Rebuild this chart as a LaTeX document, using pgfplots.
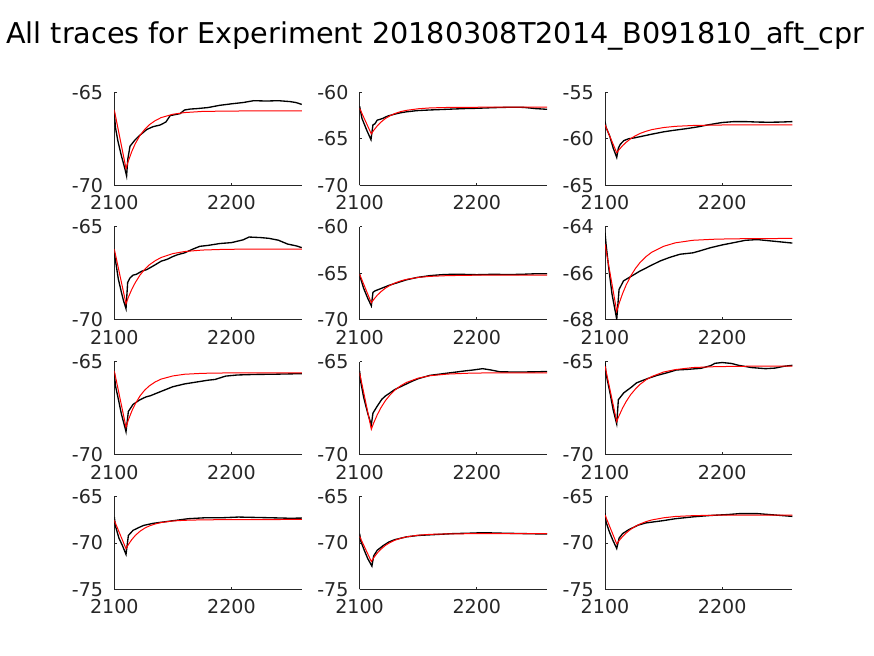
\documentclass[border=0pt]{standalone}
\usepackage{fontspec}
\setmainfont{DejaVu Sans}
\usepackage{pgfplots}
\pgfplotsset{compat=1.18}
\definecolor{axgray}{gray}{0.15}
\pgfplotsset{
  panel/.style={
    anchor=north west,
    scale only axis,
    width=140.6pt, height=69.75pt,
    xmin=2100, xmax=2260,
    xtick={2100,2200}, xticklabels={2100,2200},
    axis x line*=bottom, axis y line*=left,
    axis line style={color=axgray, line width=0.5pt, -},
    tick style={color=axgray, line width=0.5pt},
    major tick length=2pt,
    tick align=inside,
    ticklabel style={font=\fontsize{14.3}{16}\selectfont, text=axgray, inner sep=0pt},
    xticklabel shift=7.5pt,
    yticklabel shift=8.2pt,
  },
  fit/.style={red, line width=0.75pt},
  trace/.style={black, line width=1.0pt},
}
\begin{document}
\begin{tikzpicture}
\path[use as bounding box] (0,0) rectangle (655.5pt,-492pt);
\node[anchor=base, font=\fontsize{21.5}{24}\selectfont] at ({435.5*0.75pt},{-43.3*0.75pt}) {All traces for Experiment 20180308T2014\_B091810\_aft\_cpr};

% Row 1, col 1
\begin{axis}[panel, at={({114.3*0.75pt},{-92.3*0.75pt})}, ymin=-70, ymax=-65, ytick={-70,-65}, yticklabels={-70,-65}]
\addplot[trace] coordinates {(2100,-66.1)(2101,-66.9)(2103,-67.6)(2106,-68.4)(2109,-69.1)(2110.5,-69.5)(2111.5,-68.6)(2113.4,-67.9)(2117.7,-67.56)(2122,-67.3)(2127.7,-67.0)(2133,-66.85)(2139,-66.76)(2144,-66.6)(2147.7,-66.25)(2152,-66.2)(2156,-66.15)(2160,-65.95)(2165,-65.9)(2170,-65.88)(2180,-65.82)(2190,-65.7)(2200,-65.62)(2210,-65.55)(2219,-65.45)(2230,-65.47)(2240,-65.45)(2250,-65.5)(2255,-65.55)(2260,-65.65)};
\addplot[fit] coordinates {(2100,-65.95)(2110,-69.10)(2112,-68.69)(2115,-68.17)(2118,-67.75)(2122,-67.31)(2126,-66.99)(2130,-66.74)(2135,-66.52)(2140,-66.36)(2150,-66.18)(2160,-66.09)(2175,-66.03)(2195,-66.01)(2220,-66.00)(2260,-66.00)};
\end{axis}

% Row 1, col 2
\begin{axis}[panel, at={({359.6*0.75pt},{-92.3*0.75pt})}, ymin=-70, ymax=-60, ytick={-70,-65,-60}, yticklabels={-70,-65,-60}]
\addplot[trace] coordinates {(2100,-61.5)(2102,-62.8)(2106,-64.05)(2109.7,-65.1)(2111.4,-63.5)(2113,-63.4)(2115,-63.0)(2120,-62.8)(2124,-62.55)(2130,-62.35)(2135,-62.2)(2140,-62.1)(2149,-61.97)(2160,-61.9)(2170,-61.85)(2180,-61.8)(2190,-61.75)(2200,-61.72)(2215,-61.65)(2230,-61.6)(2240,-61.62)(2250,-61.75)(2260,-61.83)};
\addplot[fit] coordinates {(2100,-61.72)(2110,-64.48)(2112,-64.10)(2115,-63.62)(2118,-63.23)(2122,-62.82)(2126,-62.52)(2130,-62.29)(2135,-62.08)(2140,-61.94)(2150,-61.77)(2160,-61.68)(2175,-61.63)(2195,-61.61)(2220,-61.60)(2260,-61.60)};
\end{axis}

% Row 1, col 3
\begin{axis}[panel, at={({605.0*0.75pt},{-92.3*0.75pt})}, ymin=-65, ymax=-55, ytick={-65,-60,-55}, yticklabels={-65,-60,-55}]
\addplot[trace] coordinates {(2100,-58.15)(2101,-58.8)(2104,-59.7)(2107,-61.0)(2110,-62.0)(2111.4,-61.0)(2113,-60.6)(2116,-60.2)(2120,-60.0)(2125,-59.9)(2130,-59.77)(2140,-59.5)(2150,-59.25)(2158,-59.1)(2170,-58.9)(2180,-58.7)(2188,-58.5)(2195,-58.35)(2200,-58.25)(2210,-58.15)(2220,-58.15)(2230,-58.2)(2240,-58.22)(2250,-58.2)(2260,-58.15)};
\addplot[fit] coordinates {(2100,-58.5)(2110,-61.5)(2112,-61.17)(2115,-60.74)(2118,-60.38)(2122,-59.98)(2126,-59.67)(2130,-59.42)(2135,-59.19)(2140,-59.01)(2150,-58.79)(2160,-58.66)(2175,-58.57)(2195,-58.52)(2220,-58.50)(2260,-58.50)};
\end{axis}

% Row 2, col 1
\begin{axis}[panel, at={({114.3*0.75pt},{-226.8*0.75pt})}, ymin=-70, ymax=-65, ytick={-70,-65}, yticklabels={-70,-65}]
\addplot[trace] coordinates {(2100,-66.4)(2101,-66.8)(2103.4,-67.8)(2106,-68.5)(2108,-69.0)(2110,-69.4)(2111.4,-68.0)(2113.4,-67.75)(2116,-67.6)(2119,-67.55)(2123,-67.4)(2127.7,-67.3)(2132,-67.15)(2136,-67.0)(2140,-66.85)(2145,-66.75)(2150,-66.6)(2154,-66.5)(2160,-66.4)(2167,-66.2)(2173,-66.05)(2180,-66.0)(2190,-65.9)(2200,-65.85)(2210,-65.7)(2215,-65.55)(2225,-65.58)(2232,-65.62)(2240,-65.72)(2248,-65.93)(2255,-66.02)(2260,-66.12)};
\addplot[fit] coordinates {(2100,-66.2)(2110,-69.14)(2112,-68.79)(2115,-68.35)(2118,-67.99)(2122,-67.59)(2126,-67.28)(2130,-67.04)(2135,-66.82)(2140,-66.65)(2150,-66.44)(2160,-66.33)(2175,-66.25)(2195,-66.21)(2220,-66.20)(2260,-66.20)};
\end{axis}

% Row 2, col 2
\begin{axis}[panel, at={({359.6*0.75pt},{-226.8*0.75pt})}, ymin=-70, ymax=-60, ytick={-70,-65,-60}, yticklabels={-70,-65,-60}]
\addplot[trace] coordinates {(2100,-65.1)(2101,-65.6)(2103.4,-66.6)(2107,-67.7)(2110,-68.5)(2111.4,-67.05)(2113,-66.9)(2116,-66.75)(2120,-66.55)(2125,-66.3)(2130,-66.1)(2135,-65.9)(2140,-65.7)(2149,-65.45)(2160,-65.25)(2170,-65.15)(2180,-65.1)(2190,-65.12)(2200,-65.15)(2210,-65.12)(2220,-65.12)(2230,-65.13)(2240,-65.1)(2250,-65.05)(2260,-65.05)};
\addplot[fit] coordinates {(2100,-65.1)(2110,-68.17)(2112,-67.82)(2115,-67.37)(2118,-67.00)(2122,-66.60)(2126,-66.29)(2130,-66.05)(2135,-65.82)(2140,-65.65)(2150,-65.44)(2160,-65.33)(2175,-65.25)(2195,-65.21)(2220,-65.20)(2260,-65.20)};
\end{axis}

% Row 2, col 3
\begin{axis}[panel, at={({605.0*0.75pt},{-226.8*0.75pt})}, ymin=-68, ymax=-64, ytick={-68,-66,-64}, yticklabels={-68,-66,-64}]
\addplot[trace] coordinates {(2100,-64.25)(2101,-64.8)(2103,-65.7)(2106,-66.9)(2109,-67.7)(2110,-67.98)(2112,-66.7)(2115.7,-66.33)(2120,-66.2)(2125,-66.05)(2130,-65.9)(2138.6,-65.68)(2147,-65.47)(2155,-65.32)(2164,-65.18)(2175,-65.12)(2180,-65.05)(2190,-64.9)(2200,-64.78)(2210,-64.68)(2220,-64.58)(2230,-64.55)(2240,-64.6)(2250,-64.65)(2260,-64.7)};
\addplot[fit] coordinates {(2100,-64.75)(2110,-67.63)(2112,-67.30)(2115,-66.87)(2118,-66.51)(2122,-66.11)(2126,-65.79)(2130,-65.53)(2135,-65.28)(2140,-65.09)(2150,-64.84)(2160,-64.69)(2175,-64.58)(2195,-64.53)(2220,-64.51)(2260,-64.50)};
\end{axis}

% Row 3, col 1
\begin{axis}[panel, at={({114.3*0.75pt},{-361.6*0.75pt})}, ymin=-70, ymax=-65, ytick={-70,-65}, yticklabels={-70,-65}]
\addplot[trace] coordinates {(2100,-65.6)(2101,-66.3)(2103.4,-67.0)(2106,-67.8)(2108.5,-68.4)(2110,-68.77)(2112,-67.68)(2116,-67.3)(2122,-67.05)(2127,-66.9)(2131,-66.83)(2140,-66.6)(2150,-66.35)(2160,-66.2)(2170,-66.1)(2180,-66.0)(2186,-65.96)(2195,-65.78)(2205,-65.72)(2220,-65.69)(2235,-65.68)(2250,-65.66)(2260,-65.65)};
\addplot[fit] coordinates {(2100,-65.5)(2110,-68.53)(2112,-68.14)(2115,-67.65)(2118,-67.26)(2122,-66.84)(2126,-66.53)(2130,-66.30)(2135,-66.09)(2140,-65.94)(2150,-65.77)(2160,-65.68)(2175,-65.63)(2195,-65.61)(2220,-65.60)(2260,-65.60)};
\end{axis}

% Row 3, col 2
\begin{axis}[panel, at={({359.6*0.75pt},{-361.6*0.75pt})}, ymin=-70, ymax=-65, ytick={-70,-65}, yticklabels={-70,-65}]
\addplot[trace] coordinates {(2100,-65.5)(2101,-66.1)(2103.4,-66.9)(2107,-67.8)(2110,-68.4)(2111.4,-67.77)(2115,-67.4)(2118.9,-67.03)(2122,-66.85)(2126,-66.68)(2130,-66.5)(2135,-66.35)(2140,-66.2)(2145,-66.05)(2150,-65.92)(2160,-65.74)(2170,-65.66)(2180,-65.58)(2190,-65.5)(2197,-65.45)(2205,-65.38)(2212,-65.45)(2220,-65.55)(2235,-65.56)(2250,-65.55)(2260,-65.53)};
\addplot[fit] coordinates {(2100,-65.6)(2110,-68.64)(2112,-68.30)(2115,-67.87)(2118,-67.50)(2122,-67.10)(2126,-66.79)(2130,-66.54)(2135,-66.30)(2140,-66.12)(2150,-65.89)(2160,-65.76)(2175,-65.67)(2195,-65.62)(2220,-65.60)(2260,-65.60)};
\end{axis}

% Row 3, col 3
\begin{axis}[panel, at={({605.0*0.75pt},{-361.6*0.75pt})}, ymin=-70, ymax=-65, ytick={-70,-65}, yticklabels={-70,-65}]
\addplot[trace] coordinates {(2100,-65.05)(2101,-65.7)(2104,-66.6)(2107,-67.6)(2110,-68.35)(2111.4,-67.05)(2116,-66.68)(2122,-66.4)(2127,-66.14)(2136,-65.92)(2144,-65.75)(2153,-65.6)(2161,-65.45)(2170,-65.42)(2182,-65.36)(2190,-65.22)(2194,-65.09)(2200,-65.05)(2208,-65.1)(2214,-65.2)(2225,-65.32)(2237,-65.38)(2245,-65.35)(2253,-65.25)(2260,-65.2)};
\addplot[fit] coordinates {(2100,-65.24)(2110,-68.22)(2112,-67.91)(2115,-67.50)(2118,-67.15)(2122,-66.77)(2126,-66.47)(2130,-66.22)(2135,-65.98)(2140,-65.80)(2150,-65.56)(2160,-65.43)(2175,-65.32)(2195,-65.27)(2220,-65.25)(2260,-65.24)};
\end{axis}

% Row 4, col 1
\begin{axis}[panel, at={({114.3*0.75pt},{-496.4*0.75pt})}, ymin=-75, ymax=-65, ytick={-75,-70,-65}, yticklabels={-75,-70,-65}]
\addplot[trace] coordinates {(2100,-67.2)(2101,-68.2)(2104,-69.5)(2107,-70.3)(2110,-71.24)(2112,-69.2)(2116,-68.65)(2120,-68.4)(2125,-68.12)(2133,-67.9)(2140,-67.78)(2151,-67.6)(2163,-67.4)(2177,-67.3)(2191,-67.3)(2206,-67.22)(2220,-67.26)(2235,-67.3)(2250,-67.35)(2260,-67.33)};
\addplot[fit] coordinates {(2100,-67.58)(2110,-70.63)(2112,-70.18)(2115,-69.63)(2118,-69.19)(2122,-68.74)(2126,-68.41)(2130,-68.17)(2135,-67.96)(2140,-67.81)(2150,-67.64)(2160,-67.57)(2175,-67.52)(2195,-67.50)(2220,-67.50)(2260,-67.47)};
\end{axis}

% Row 4, col 2
\begin{axis}[panel, at={({359.6*0.75pt},{-496.4*0.75pt})}, ymin=-75, ymax=-65, ytick={-75,-70,-65}, yticklabels={-75,-70,-65}]
\addplot[trace] coordinates {(2100,-69.0)(2101,-69.8)(2104,-70.8)(2107,-71.7)(2110.5,-72.5)(2112,-71.4)(2115,-70.8)(2120,-70.3)(2125,-69.9)(2130,-69.65)(2140,-69.35)(2150,-69.2)(2165,-69.1)(2180,-69.0)(2195,-68.95)(2205,-68.9)(2220,-68.95)(2240,-69.0)(2260,-69.05)};
\addplot[fit] coordinates {(2100,-69.3)(2110,-72.0)(2112,-71.60)(2115,-71.10)(2118,-70.70)(2122,-70.27)(2126,-69.96)(2130,-69.72)(2135,-69.50)(2140,-69.35)(2150,-69.17)(2160,-69.08)(2175,-69.03)(2195,-69.01)(2220,-69.00)(2260,-69.00)};
\end{axis}

% Row 4, col 3
\begin{axis}[panel, at={({605.0*0.75pt},{-496.4*0.75pt})}, ymin=-75, ymax=-65, ytick={-75,-70,-65}, yticklabels={-75,-70,-65}]
\addplot[trace] coordinates {(2100,-66.8)(2101,-67.8)(2104,-68.9)(2107,-69.8)(2110,-70.6)(2112,-69.5)(2115,-69.0)(2120,-68.6)(2128,-68.1)(2135,-67.85)(2150,-67.6)(2160,-67.4)(2175,-67.2)(2190,-67.05)(2205,-66.95)(2215,-66.85)(2230,-66.85)(2245,-67.0)(2260,-67.15)};
\addplot[fit] coordinates {(2100,-67.0)(2110,-70.1)(2112,-69.76)(2115,-69.31)(2118,-68.94)(2122,-68.53)(2126,-68.21)(2130,-67.96)(2135,-67.71)(2140,-67.53)(2150,-67.30)(2160,-67.16)(2175,-67.07)(2195,-67.02)(2220,-67.00)(2260,-67.00)};
\end{axis}
\end{tikzpicture}
\end{document}
